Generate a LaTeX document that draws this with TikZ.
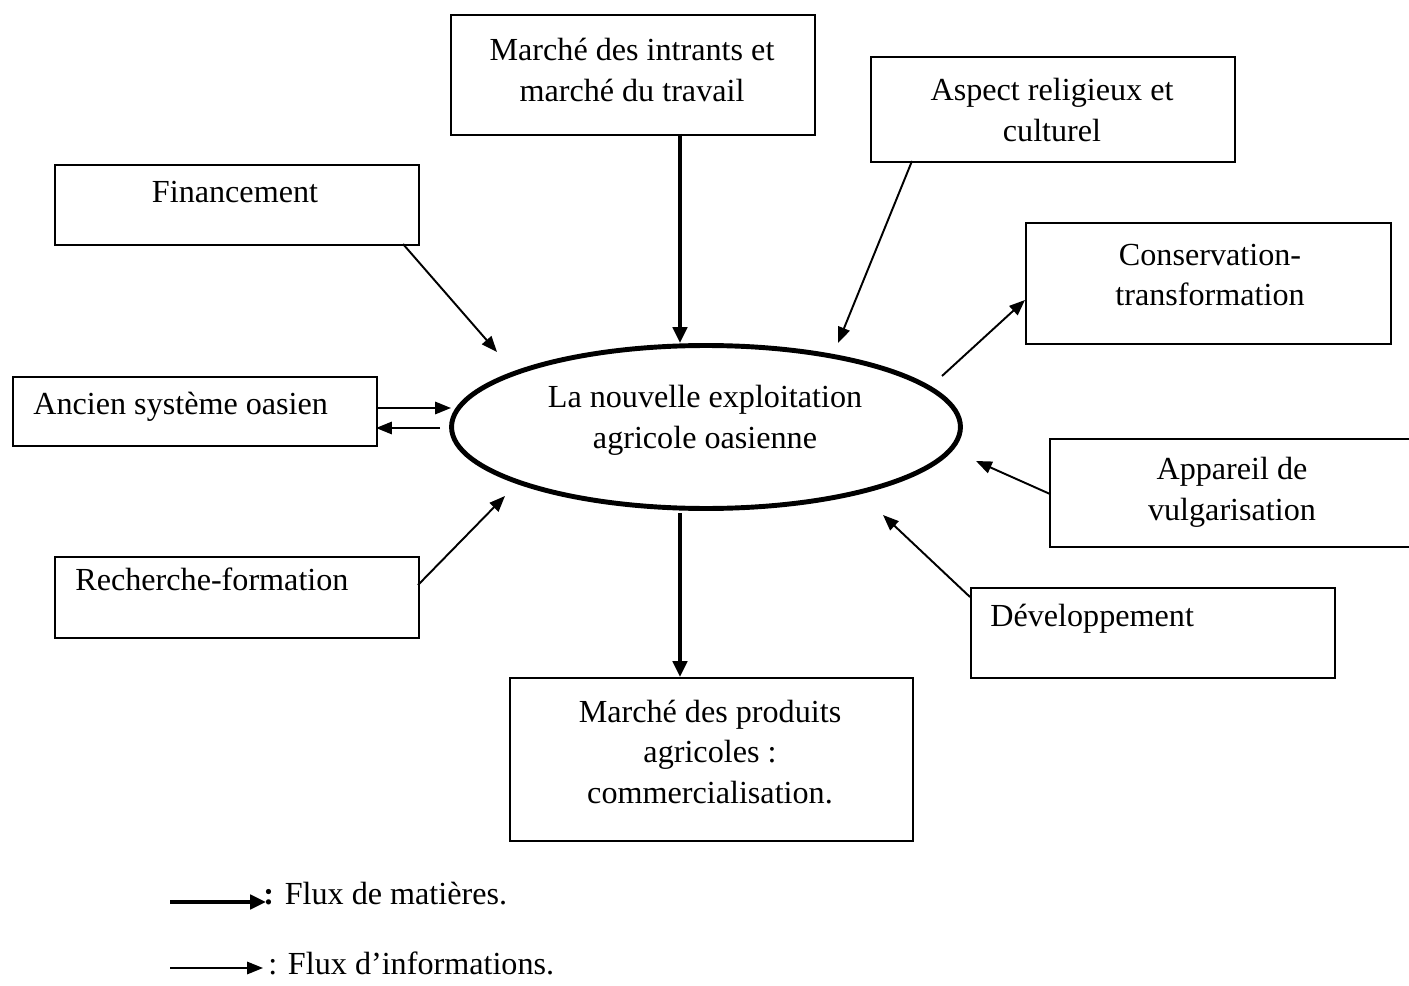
\documentclass[tikz,border=0pt]{standalone}
\usepackage{fontspec}
\setmainfont{Liberation Serif}
\usetikzlibrary{shapes.geometric,arrows.meta,calc}
\begin{document}
\begin{tikzpicture}[x=0.02cm,y=-0.02cm,
  box/.style={draw,line width=1pt,inner sep=0pt,anchor=north west},
  lbl/.style={font=\fontsize{18.3}{23.3}\selectfont,align=center,inner sep=0pt},
  thin/.style={line width=1.1pt,-{Triangle[length=9pt,width=7pt]}},
  thick/.style={line width=2.6pt,-{Triangle[length=9pt,width=8pt]}}]
\useasboundingbox (0,0) rectangle (1409,986);
% boxes
\node[box,minimum width=7.28cm,minimum height=2.4cm] (intr) at (450,14) {};
\node[box,minimum width=7.28cm,minimum height=2.1cm] (relig) at (870,56) {};
\node[box,minimum width=7.28cm,minimum height=1.6cm] (fin) at (54,164) {};
\node[box,minimum width=7.3cm,minimum height=2.42cm] (cons) at (1025,222) {};
\node[box,minimum width=7.28cm,minimum height=1.38cm] (anc) at (12,376) {};
\draw[line width=1pt] (1415,439) -- (1050,439) -- (1050,547) -- (1415,547);
\coordinate (app) at (1050,494);
\node[box,minimum width=7.28cm,minimum height=1.62cm] (rech) at (54,556) {};
\node[box,minimum width=7.28cm,minimum height=1.8cm] (dev) at (970,587) {};
\node[box,minimum width=8.06cm,minimum height=3.26cm] (prod) at (509,677) {};
% ellipse
\node[draw,ellipse,line width=2.8pt,minimum width=10.18cm,minimum height=3.26cm] (ell) at (706,427) {};
% labels
\node[lbl] (t1) at (632,70) {Marché des intrants et\\marché du travail};
\node[lbl] (t2) at (1052,110) {Aspect religieux et\\culturel};
\node[lbl] (t3) at (235,192) {Financement};
\node[lbl] (t4) at (1210,275) {Conservation-\\transformation};
\node[lbl,anchor=west] (t5) at (33,407) {Ancien système oasien};
\node[lbl] (t6) at (1232,492) {Appareil de\\vulgarisation};
\node[lbl,anchor=west] (t7) at (75,579) {Recherche-formation};
\node[lbl,anchor=west] (t8) at (990,619) {Développement};
\node[lbl] (t9) at (710,752) {Marché des produits\\agricoles :\\commercialisation.};
\node[lbl] (t0) at (705,420) {La nouvelle exploitation\\agricole oasienne};
% connectors
\coordinate (a1) at (680,134);
\coordinate (b1) at (680,343);
\draw[thick] (a1) -- (b1);
\coordinate (a2) at (680,513);
\coordinate (b2) at (680,677);
\draw[thick] (a2) -- (b2);
\coordinate (a3) at (403,244);
\coordinate (b3) at (497,352);
\draw[thin] (a3) -- (b3);
\coordinate (a4) at (912,161);
\coordinate (b4) at (838,343);
\draw[thin] (a4) -- (b4);
\coordinate (a5) at (942,376);
\coordinate (b5) at (1025,300);
\draw[thin] (a5) -- (b5);
\coordinate (a6) at (376,408);
\coordinate (b6) at (451,408);
\draw[thin] (a6) -- (b6);
\coordinate (a7) at (440,428);
\coordinate (b7) at (376,428);
\draw[thin] (a7) -- (b7);
\coordinate (b8) at (976,461);
\draw[thin] (app) -- (b8);
\coordinate (a9) at (970,597);
\coordinate (b9) at (883,515);
\draw[thin] (a9) -- (b9);
\coordinate (a10) at (418,585);
\coordinate (b10) at (505,496);
\draw[thin] (a10) -- (b10);
% legend
\coordinate (l1) at (170,902);
\coordinate (l2) at (266,902);
\draw[thick] (l1) -- (l2);
\node[lbl,anchor=base west] (lt1) at (263,904) {\textbf{:} Flux de matières.};
\coordinate (l3) at (170,968);
\coordinate (l4) at (263,968);
\draw[thin] (l3) -- (l4);
\node[lbl,anchor=base west] (lt2) at (268,974) {: Flux d’informations.};
\end{tikzpicture}
\end{document}
